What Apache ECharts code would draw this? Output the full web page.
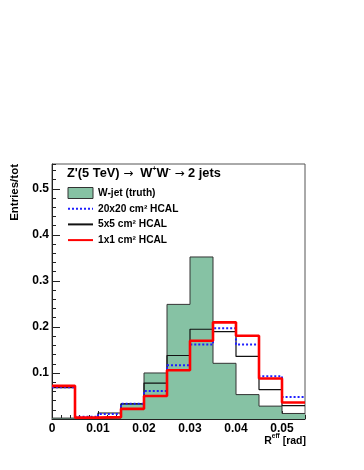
<!DOCTYPE html>
<html>
<head>
<meta charset="utf-8">
<script src="https://cdn.jsdelivr.net/npm/echarts@6/dist/echarts.min.js"></script>
<style>
  html, body { margin: 0; padding: 0; background: #fff; }
  #chart { width: 364px; height: 470px; }
</style>
</head>
<body>
<div id="chart"></div>
<script>
// bin edges of R_eff [rad]
var binEdges = [0, 0.005, 0.01, 0.015, 0.02, 0.025, 0.03, 0.035, 0.04, 0.045, 0.05, 0.055]

// Entries/tot per bin
var truthVals = [0.002, 0.001, 0.002, 0.033, 0.100, 0.249, 0.352, 0.121, 0.053, 0.028, 0.012]
var hcal20Vals = [0.069, 0.005, 0.011, 0.033, 0.061, 0.117, 0.162, 0.197, 0.162, 0.093, 0.048]
var hcal5Vals = [0.068, 0.003, 0.013, 0.033, 0.078, 0.138, 0.195, 0.190, 0.136, 0.064, 0.029]
var hcal1Vals = [0.072, 0.003, 0.004, 0.022, 0.050, 0.106, 0.170, 0.210, 0.181, 0.088, 0.036]

var seriesNames = ['W-jet (truth)', '20x20 cm² HCAL', '5x5 cm² HCAL', '1x1 cm² HCAL']

var FONT = '"Liberation Sans", Arial, Helvetica, sans-serif'
var SYM = '"DejaVu Sans", sans-serif'

// histogram outline: two points per bin
function steps(vals) {
  var pts = []
  vals.forEach(function(v, i) {
    pts.push([binEdges[i], v])
    pts.push([binEdges[i + 1], v])
  })
  return pts
}

var chart = echarts.init(document.getElementById('chart'), null, { renderer: 'canvas' })

var tickColor = '#222'
// hide the circle that line series put into legend icons
var noSymbol = { opacity: 0, borderWidth: 0 }

chart.setOption({
  animation: false,
  backgroundColor: '#fff',
  grid: {
    left: 52,
    right: 59,
    top: 164,
    bottom: 51,
    show: true,
    borderColor: '#555',
    borderWidth: 1,
    backgroundColor: 'transparent'
  },
  legend: {
    orient: 'vertical',
    left: 67,
    top: 187,
    padding: 0,
    itemWidth: 25,
    itemHeight: 11,
    itemGap: 3.7,
    selectedMode: false,
    textStyle: {
      fontFamily: FONT,
      fontWeight: 'bold',
      fontSize: 10.2,
      lineHeight: 12,
      color: '#000'
    },
    data: [
      { name: seriesNames[0], icon: 'rect', itemStyle: { color: '#86c2a4', borderColor: '#333', borderWidth: 1 } },
      { name: seriesNames[1], itemStyle: noSymbol },
      { name: seriesNames[2], itemStyle: noSymbol },
      { name: seriesNames[3], itemStyle: noSymbol }
    ]
  },
  xAxis: [
    {
      type: 'value',
      position: 'bottom',
      min: 0,
      max: 0.055,
      interval: 0.01,
      splitLine: { show: false },
      axisLine: { show: true, lineStyle: { color: tickColor, width: 1 } },
      axisTick: { show: true, inside: true, length: 8, lineStyle: { color: tickColor } },
      axisLabel: {
        margin: 4,
        fontFamily: FONT,
        fontWeight: 'bold',
        fontSize: 12,
        color: '#000',
        showMaxLabel: false,
        formatter: function(v) {
          if (v === 0) return '0'
          if (Math.abs(v * 100 - Math.round(v * 100)) > 1e-6) return ''
          return v.toFixed(2)
        }
      }
    },
    {
      type: 'value',
      position: 'bottom',
      min: 0,
      max: 0.055,
      interval: 0.002,
      splitLine: { show: false },
      axisLine: { show: false },
      axisTick: { show: true, inside: true, length: 4, lineStyle: { color: tickColor } },
      axisLabel: { show: false }
    }
  ],
  yAxis: [
    {
      type: 'value',
      position: 'left',
      min: 0,
      max: 0.554,
      interval: 0.1,
      splitLine: { show: false },
      axisLine: { show: true, lineStyle: { color: tickColor, width: 1 } },
      axisTick: { show: true, inside: true, length: 8, lineStyle: { color: tickColor } },
      axisLabel: {
        margin: 3,
        fontFamily: FONT,
        fontWeight: 'bold',
        fontSize: 12,
        color: '#000',
        showMaxLabel: false,
        formatter: function(v) {
          if (v === 0) return ''
          if (Math.abs(v * 10 - Math.round(v * 10)) > 1e-6) return ''
          return v.toFixed(1)
        }
      }
    },
    {
      type: 'value',
      position: 'left',
      min: 0,
      max: 0.554,
      interval: 0.02,
      splitLine: { show: false },
      axisLine: { show: false },
      axisTick: { show: true, inside: true, length: 4, lineStyle: { color: tickColor } },
      axisLabel: { show: false }
    }
  ],
  series: [
    {
      name: seriesNames[0],
      type: 'line',
      data: steps(truthVals),
      symbol: 'none',
      itemStyle: { color: '#86c2a4' },
      lineStyle: { color: '#333', width: 1 },
      areaStyle: { color: '#86c2a4', opacity: 1 },
      z: 1
    },
    {
      name: seriesNames[2],
      type: 'line',
      data: steps(hcal5Vals),
      symbol: 'none',
      itemStyle: { color: '#111' },
      lineStyle: { color: '#111', width: 1.2 },
      z: 2
    },
    {
      name: seriesNames[1],
      type: 'line',
      data: steps(hcal20Vals),
      symbol: 'none',
      itemStyle: { color: '#1f1fff' },
      lineStyle: { color: '#1f1fff', width: 2, type: [2, 2] },
      z: 3
    },
    {
      name: seriesNames[3],
      type: 'line',
      data: steps(hcal1Vals),
      symbol: 'none',
      itemStyle: { color: '#ff0000' },
      lineStyle: { color: '#ff0000', width: 2.6 },
      z: 4
    }
  ],
  graphic: [
    {
      type: 'text',
      x: 67,
      y: 173,
      style: {
        text: "{m|Z'(5 TeV) }{a|\u2192}{m|  W}{s|+}{m|W}{s|-}{m| }{a|\u2192}{m| 2 jets}",
        verticalAlign: 'middle',
        rich: {
          m: { fontFamily: FONT, fontWeight: 'bold', fontSize: 12.8, lineHeight: 14, fill: '#000', verticalAlign: 'bottom' },
          a: { fontFamily: SYM, fontSize: 12, lineHeight: 14, fill: '#000', verticalAlign: 'bottom' },
          s: { fontFamily: FONT, fontWeight: 'bold', fontSize: 7, lineHeight: 14, fill: '#000', verticalAlign: 'top' }
        }
      }
    },
    {
      type: 'text',
      x: 15,
      y: 164,
      rotation: Math.PI / 2,
      style: {
        text: 'Entries/tot',
        font: 'bold 11.5px ' + FONT,
        align: 'right',
        verticalAlign: 'middle',
        fill: '#000'
      }
    },
    {
      type: 'text',
      x: 306,
      y: 440,
      style: {
        text: '{m|R}{s|eff}{m| [rad]}',
        align: 'right',
        verticalAlign: 'middle',
        rich: {
          m: { fontFamily: FONT, fontWeight: 'bold', fontSize: 10.5, lineHeight: 14, fill: '#000', verticalAlign: 'bottom' },
          s: { fontFamily: FONT, fontWeight: 'bold', fontSize: 6.5, lineHeight: 14, fill: '#000', verticalAlign: 'top' }
        }
      }
    }
  ]
})
</script>
</body>
</html>
